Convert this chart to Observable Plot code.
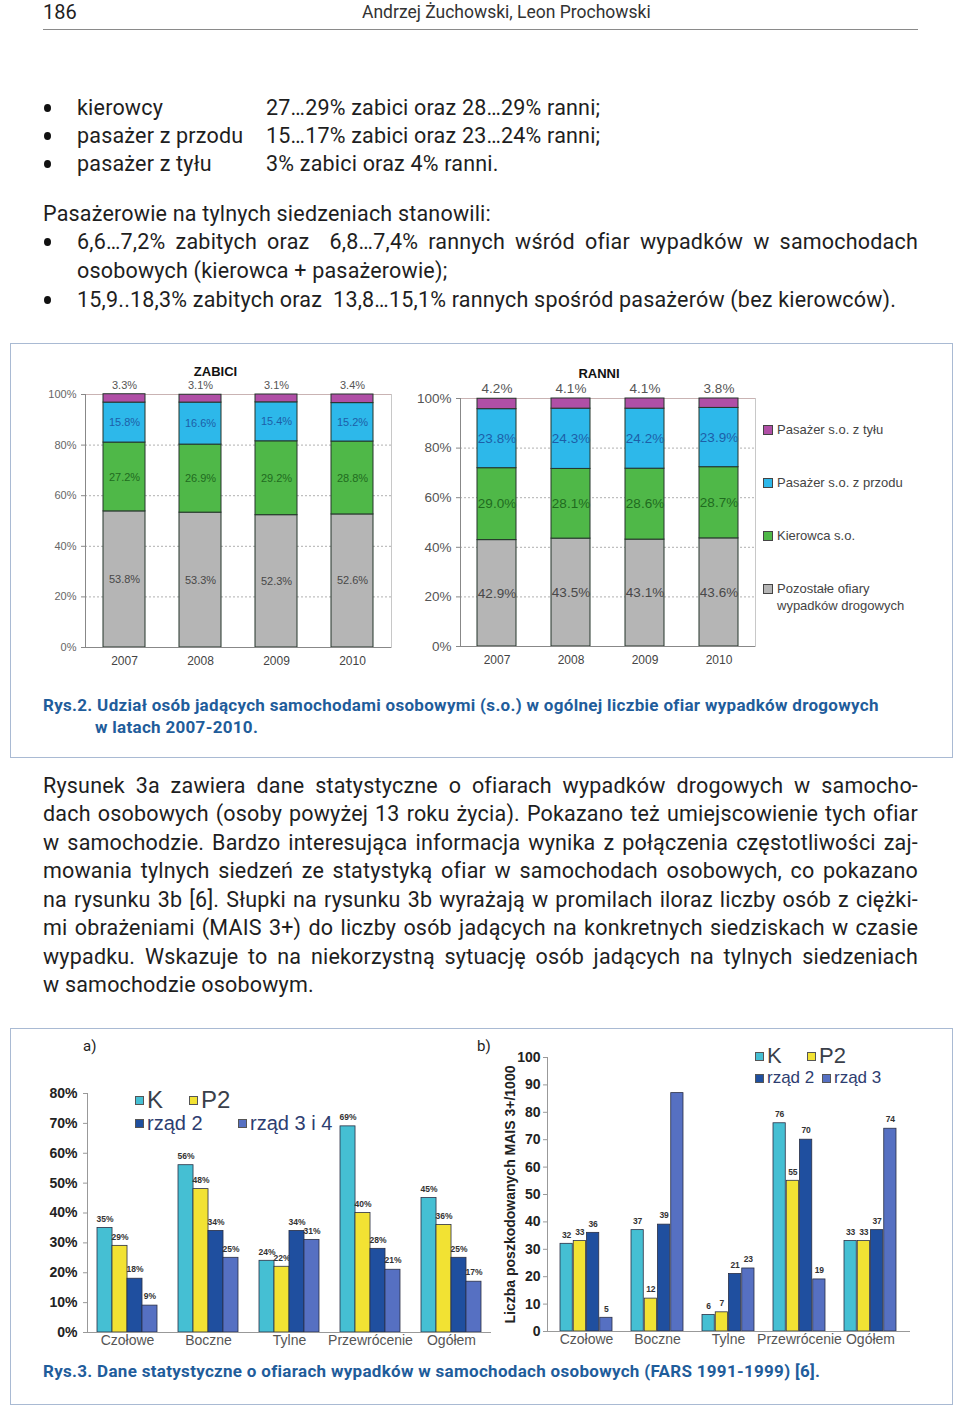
<!DOCTYPE html>
<html><head><meta charset="utf-8">
<script src="https://cdn.jsdelivr.net/npm/d3@7"></script>
<script src="https://cdn.jsdelivr.net/npm/@observablehq/plot@0.6"></script>
<style>
body{margin:0;background:#fff;}
#page{position:relative;width:960px;height:1407px;overflow:hidden;font-family:Roboto,"Liberation Sans",sans-serif;color:#1e1e1e;background:#fff;}
.abs{position:absolute;white-space:nowrap;}
.just{position:absolute;white-space:nowrap;text-align:justify;text-align-last:justify;}
.box{position:absolute;box-sizing:border-box;border:1.5px solid #a9bad3;}
.dot{position:absolute;width:7px;height:8px;border-radius:50%;background:#111;}
.sq{position:absolute;box-sizing:border-box;border:1px solid #333;}
.chart{position:absolute;}
.leg{position:absolute;white-space:nowrap;font-family:"Liberation Sans",Arial,sans-serif;}
</style>
</head><body><div id="page"></div>
<script>
// ---------- data ----------
const years = ["2007", "2008", "2009", "2010"];
const victimGroups = ["Pozostałe ofiary wypadków drogowych", "Kierowca s.o.", "Pasażer s.o. z przodu", "Pasażer s.o. z tyłu"];
const killedOther  = [53.8, 53.3, 52.3, 52.6];
const killedDriver = [27.2, 26.9, 29.2, 28.8];
const killedFront  = [15.8, 16.6, 15.4, 15.2];
const killedRear   = [3.3, 3.1, 3.1, 3.4];
const injuredOther  = [42.9, 43.5, 43.1, 43.6];
const injuredDriver = [29.0, 28.1, 28.6, 28.7];
const injuredFront  = [23.8, 24.3, 24.2, 23.9];
const injuredRear   = [4.2, 4.1, 4.1, 3.8];
const pctTicks = [0, 20, 40, 60, 80, 100];

const crashTypes = ["Czołowe", "Boczne", "Tylne", "Przewrócenie", "Ogółem"];
const seatsA = ["K", "P2", "rząd 2", "rząd 3 i 4"];
const shareK     = [35, 56, 24, 69, 45];
const shareP2    = [29, 48, 22, 40, 36];
const shareRow2  = [18, 34, 34, 28, 25];
const shareRow34 = [9, 25, 31, 21, 17];
const shareTicks = [0, 10, 20, 30, 40, 50, 60, 70, 80];

const seatsB = ["K", "P2", "rząd 2", "rząd 3"];
const rateK    = [32, 37, 6, 76, 33];
const rateP2   = [33, 12, 7, 55, 33];
const rateRow2 = [36, 39, 21, 70, 37];
const rateRow3 = [5, 87, 23, 19, 74];
const rateUnlabelled = ["Boczne|rząd 3"];
const rateTicks = [0, 10, 20, 30, 40, 50, 60, 70, 80, 90, 100];
const rateTitle = "Liczba poszkodowanych MAIS 3+/1000";

// ---------- styles ----------
const stackFill = ["#b5b5b5", "#4fb848", "#2db8ea", "#b04fa6"];
const stackText = ["#484848", "#1f6b1f", "#1d5fa8", "#555"];
const seatFill = ["#45bfd3", "#f2e233", "#1f4f9f", "#5670c2"];
const chartFont = "'Liberation Sans', Arial, sans-serif";

const page = document.getElementById("page");
function el(tag, cls, css, html){const e=document.createElement(tag); if(cls) e.className=cls; Object.assign(e.style, css||{}); if(html!=null) e.innerHTML=html; page.appendChild(e); return e;}
function T(text, x, cy, size, extra, lhf){const lh=size*(lhf||1.3); return el("div","abs",Object.assign({left:x+"px",top:(cy-lh/2)+"px",fontSize:size+"px",lineHeight:lh+"px"},extra||{}),text);}
function J(text, x, cy, w, size, extra){const lh=size*1.3; return el("div","just",Object.assign({left:x+"px",top:(cy-lh/2)+"px",width:w+"px",fontSize:size+"px",lineHeight:lh+"px"},extra||{}),text);}
function bullet(cy){el("div","dot",{left:"44px",top:(cy-4)+"px"});}

// ---------- header & text ----------
T("186", 43, 12, 20, null, 1.1);
T("Andrzej Żuchowski, Leon Prochowski", 362, 12, 17.5, {color:"#333"});
el("div", null, {position:"absolute", left:"43px", top:"29px", width:"875px", borderTop:"1.5px solid #8a8a8a"});

const FS = 21.5;
const bodyCss = {letterSpacing:"0.2px"};
bullet(108); T("kierowcy", 77, 108, FS, bodyCss); T("27…29% zabici oraz 28…29% ranni;", 266, 108, FS, bodyCss);
bullet(136); T("pasażer z przodu", 77, 136, FS, bodyCss); T("15…17% zabici oraz 23…24% ranni;", 266, 136, FS, bodyCss);
bullet(164); T("pasażer z tyłu", 77, 164, FS, bodyCss); T("3% zabici oraz 4% ranni.", 266, 164, FS, bodyCss);
T("Pasażerowie na tylnych siedzeniach stanowili:", 43, 214, FS, bodyCss);
bullet(242); J("6,6…7,2% zabitych oraz&nbsp; 6,8…7,4% rannych wśród ofiar wypadków w samochodach", 77, 242, 841, FS, bodyCss);
T("osobowych (kierowca + pasażerowie);", 77, 271, FS, bodyCss);
bullet(300); T("15,9..18,3% zabitych oraz&nbsp; 13,8…15,1% rannych spośród pasażerów (bez kierowców).", 77, 300, FS, bodyCss);

// box 1
const capCss = {color:"#1f5d9b",fontWeight:"bold",letterSpacing:"0.3px"};
el("div","box",{left:"10px",top:"343px",width:"943px",height:"415px"});
T("Rys.2. Udział osób jadących samochodami osobowymi (s.o.) w ogólnej liczbie ofiar wypadków drogowych", 43, 705, 17, capCss);
T("w latach 2007-2010.", 95, 727, 17, capCss);

const para = [
 "Rysunek 3a zawiera dane statystyczne o ofiarach wypadków drogowych w samocho-",
 "dach osobowych (osoby powyżej 13 roku życia). Pokazano też umiejscowienie tych ofiar",
 "w samochodzie. Bardzo interesująca informacja wynika z połączenia częstotliwości zaj-",
 "mowania tylnych siedzeń ze statystyką ofiar w samochodach osobowych, co pokazano",
 "na rysunku 3b [6]. Słupki na rysunku 3b wyrażają w promilach iloraz liczby osób z ciężki-",
 "mi obrażeniami (MAIS 3+) do liczby osób jadących na konkretnych siedziskach w czasie",
 "wypadku. Wskazuje to na niekorzystną sytuację osób jadących na tylnych siedzeniach"];
para.forEach((t,i)=>J(t, 43, 786 + i*28.43, 875, FS, bodyCss));
T("w samochodzie osobowym.", 43, 985, FS, bodyCss);

// box 2
el("div","box",{left:"10px",top:"1028px",width:"943px",height:"377px"});
T("a)", 83, 1047, 15);
T("b)", 477, 1047, 15);
T("Rys.3. Dane statystyczne o ofiarach wypadków w samochodach osobowych (FARS 1991-1999) [6].", 43, 1371, 17, capCss);

// ---------- stacked charts ----------
function stacked({vals, title, W, H, m, pi, po, fs, tickFs, titleDx, titleDy, topDy, tickColor}) {
  const rows = [];
  years.forEach((y,i)=>victimGroups.forEach((g,j)=>rows.push({year:y, g:j, value:vals[j][i]})));
  const fmt = v => v.toFixed(1) + "%";
  return Plot.plot({
    width: W, height: H, marginTop: m.top, marginBottom: m.bottom, marginLeft: m.left, marginRight: m.right,
    style: {background: "transparent", fontFamily: chartFont, overflow: "visible"},
    x: {domain: years, paddingInner: pi, paddingOuter: po},
    y: {domain: [0, 100]},
    marks: [
      Plot.ruleY(pctTicks.filter(t => t > 0 && t < 100), {stroke: "#b0b0b0", strokeDasharray: "2,2"}),
      Plot.ruleY([100], {stroke: "#c9b3b3"}),
      Plot.frame({anchor: "right", stroke: "#c8c8c8"}),
      Plot.barY(rows, {x: "year", y: "value", z: "g", fill: d => stackFill[d.g], stroke: "#24342a", strokeWidth: 1}),
      Plot.text(rows, Plot.stackY({x: "year", y: "value", z: "g", text: d => d.g < 3 ? fmt(d.value) : null, fill: d => stackText[d.g], fontSize: fs})),
      Plot.text(rows, Plot.stackY2({x: "year", y: "value", z: "g", text: d => d.g === 3 ? fmt(d.value) : null, fill: "#555", fontSize: fs, dy: topDy})),
      Plot.ruleY([0], {stroke: "#888"}),
      Plot.frame({anchor: "left", stroke: "#888"}),
      Plot.axisY({ticks: pctTicks, tickFormat: d => d + "%", tickSize: 4, tickPadding: 5, fontSize: tickFs, fill: tickColor, stroke: "#888", label: null}),
      Plot.axisX({tickSize: 0, tickPadding: 9, fontSize: 12, fill: "#444", label: null}),
      Plot.text([title], {frameAnchor: "top", lineAnchor: "middle", dx: titleDx, dy: titleDy, fontWeight: "bold", fontSize: 13, fill: "#111"})
    ]
  });
}
function place(node, x, y){const d=el("div","chart",{left:x+"px",top:y+"px"}); d.appendChild(node); return d;}

place(stacked({vals:[killedOther,killedDriver,killedFront,killedRear], title:"ZABICI", W:360, H:320,
  m:{top:34,bottom:33,left:45,right:9}, pi:0.45, po:0.236, fs:11, tickFs:11, titleDx:-23, titleDy:-23, topDy:-9, tickColor:"#666"}), 40, 360);
place(stacked({vals:[injuredOther,injuredDriver,injuredFront,injuredRear], title:"RANNI", W:360, H:320,
  m:{top:38,bottom:34,left:60,right:5}, pi:0.477, po:0.228, fs:13.5, tickFs:13.5, titleDx:-9, titleDy:-25, topDy:-10, tickColor:"#555"}), 400, 360);

// legend for stacked charts (top to bottom)
const legY = [430, 483, 536];
[3,2,1].forEach((j,k)=>{
  el("div","sq",{left:"763px",top:(legY[k]-5)+"px",width:"10px",height:"10px",background:stackFill[j],borderColor:"#444"});
  el("div","leg",{left:"777px",top:(legY[k]-9)+"px",fontSize:"13px",lineHeight:"18px",color:"#444"}, victimGroups[j]);
});
el("div","sq",{left:"763px",top:"584px",width:"10px",height:"10px",background:stackFill[0],borderColor:"#444"});
el("div","leg",{left:"777px",top:"580px",fontSize:"13px",lineHeight:"17px",color:"#444"}, "Pozostałe ofiary<br>wypadków drogowych");

// ---------- grouped charts ----------
function grouped({series, seats, ticks, tickFmt, valFmt, W, H, m, pi, po, hidden, yTitle, tickPad}) {
  const rows = [];
  seats.forEach((s,j)=>crashTypes.forEach((c,i)=>rows.push({cat:c, seat:s, j, value:series[j][i]})));
  const xs = Plot.scale({x: {type: "band", domain: crashTypes, range: [m.left, W - m.right], paddingInner: pi, paddingOuter: po}});
  const sub = xs.bandwidth / seats.length;
  const n = seats.length;
  const marks = [];
  seats.forEach((s,j)=>{
    const d = rows.filter(r => r.j === j);
    marks.push(Plot.barY(d, {x: "cat", y: "value", fill: seatFill[j], stroke: "#2a2f45", strokeWidth: 0.8,
      insetLeft: j * sub, insetRight: (n - 1 - j) * sub}));
    marks.push(Plot.text(d.filter(r => !hidden.includes(r.cat + "|" + r.seat)), {x: "cat", y: "value", text: r => valFmt(r.value),
      dx: (j - (n - 1) / 2) * sub, dy: -9, fontSize: 8.5, fontWeight: "bold", fill: "#333"}));
  });
  marks.push(Plot.ruleY([0], {stroke: "#999"}));
  marks.push(Plot.frame({anchor: "left", stroke: "#999"}));
  marks.push(Plot.axisY({ticks, tickFormat: tickFmt, tickSize: 4, tickPadding: tickPad, fontSize: 14, fontWeight: "bold", fill: "#222", stroke: "#999", label: null}));
  marks.push(Plot.axisX({tickSize: 0, tickPadding: 3, fontSize: 14, fill: "#555", label: null}));
  if (yTitle) marks.push(Plot.text([yTitle], {frameAnchor: "left", rotate: -90, textAnchor: "middle", lineAnchor: "middle", dx: -37, fontWeight: "bold", fontSize: 14, fill: "#222"}));
  return Plot.plot({
    width: W, height: H, marginTop: m.top, marginBottom: m.bottom, marginLeft: m.left, marginRight: m.right,
    style: {background: "transparent", fontFamily: chartFont, overflow: "visible"},
    x: {domain: crashTypes, paddingInner: pi, paddingOuter: po},
    y: {domain: [ticks[0], ticks[ticks.length - 1]]},
    marks
  });
}

place(grouped({series:[shareK, shareP2, shareRow2, shareRow34], seats:seatsA, ticks:shareTicks, tickFmt:d=>d+"%", valFmt:v=>v+"%",
  W:455, H:300, m:{top:33,bottom:28,left:47,right:4}, pi:0.26, po:0.123, hidden:[], yTitle:null, tickPad:6}), 40, 1060);
place(grouped({series:[rateK, rateP2, rateRow2, rateRow3], seats:seatsB, ticks:rateTicks, tickFmt:d=>d, valFmt:v=>v,
  W:450, H:310, m:{top:7,bottom:29,left:57,right:30}, pi:0.264, po:0.153, hidden:rateUnlabelled, yTitle:rateTitle, tickPad:3}), 490, 1050);

// legends for grouped charts
function legItem(x, cy, j, label, size, color){
  el("div","sq",{left:x+"px",top:(cy-4)+"px",width:"9px",height:"9px",background:seatFill[j],borderColor:"#555"});
  el("div","leg",{left:(x+12)+"px",top:(cy-size*0.6)+"px",fontSize:size+"px",lineHeight:(size*1.2)+"px",color:color},label);
}
legItem(135, 1100, 0, seatsA[0], 24, "#3a3f4a");
legItem(189, 1100, 1, seatsA[1], 24, "#3a3f4a");
legItem(135, 1123, 2, seatsA[2], 20, "#2d3d70");
legItem(238, 1123, 3, seatsA[3], 20, "#2d3d70");
legItem(755, 1056, 0, seatsB[0], 22, "#3a3f4a");
legItem(807, 1056, 1, seatsB[1], 22, "#3a3f4a");
legItem(755, 1078, 2, seatsB[2], 17, "#2d3d70");
legItem(822, 1078, 3, seatsB[3], 17, "#2d3d70");
</script>
</body></html>
